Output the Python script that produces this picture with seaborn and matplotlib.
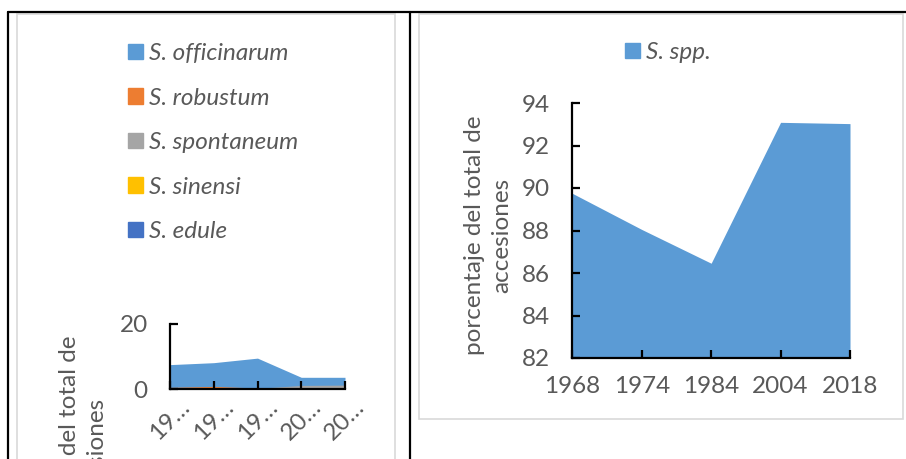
import numpy as np
import pandas as pd
import matplotlib
matplotlib.use('Agg')
import matplotlib.pyplot as plt
from matplotlib.patches import Patch, Rectangle
from matplotlib.lines import Line2D
import seaborn as sns

# datos
years = ['1968', '1974', '1984', '2004', '2018']
years_short = ['19…', '19…', '19…', '20…', '20…']
spp = [89.75, 88.05, 86.46, 93.09, 93.03]

officinarum = [7.5, 8.1, 9.5, 3.6, 3.6]
robustum = [0.5, 0.8, 0.3, 0.2, 0.2]
spontaneum = [0.1, 0.1, 0.2, 1.1, 1.2]
sinensi = [0.0, 0.0, 0.0, 0.0, 0.0]
edule = [0.0, 0.0, 0.0, 0.0, 0.0]
otras = [0.1, 0.3, 0.4, 0.0, 0.0]

species = ['S. officinarum', 'S. robustum', 'S. spontaneum', 'S. sinensi', 'S. edule']
colors = ['#5B9BD5', '#ED7D31', '#A5A5A5', '#FFC000', '#4472C4', '#70AD47']

sns.set_style('white')
plt.rcParams['font.family'] = ['Lato', 'DejaVu Sans']
txt_color = '#595959'
fs = 17.5

fig = plt.figure(figsize=(9.06, 4.59), dpi=100)

# marcos de la tabla
for xs, ys in [([8/906, 1], [1 - 12/459, 1 - 12/459]),
               ([8/906, 8/906], [0, 1 - 12/459]),
               ([410/906, 410/906], [0, 1 - 12/459])]:
    fig.add_artist(Line2D(xs, ys, color='black', lw=1.6))
# marcos de los graficos
fig.add_artist(Rectangle((17/906, -0.05), (395 - 17)/906, 1 - 13.5/459 + 0.05,
                         fill=False, edgecolor='#D9D9D9', lw=1.2))
fig.add_artist(Rectangle((419/906, 1 - 419/459), (903 - 419)/906, (419 - 13.5)/459,
                         fill=False, edgecolor='#D9D9D9', lw=1.2))


def style_axes(ax):
    sns.despine(ax=ax)
    ax.set_axisbelow(False)
    for s in ['left', 'bottom']:
        ax.spines[s].set_color('black')
        ax.spines[s].set_linewidth(1.6)
    ax.tick_params(direction='in', length=5.5, width=1.6, colors='black',
                   labelcolor=txt_color, labelsize=fs, pad=16,
                   bottom=True, left=True)
    ax.set_facecolor('none')


# grafico izquierdo
axl = fig.add_axes([170/906, 1 - 389/459, 175/906, 65/459])
x = np.arange(len(years))
series = [officinarum, robustum, spontaneum, sinensi, edule, otras]
for vals, c in zip(series, colors):
    axl.fill_between(x, 0, vals, color=c, lw=0)
axl.set_xlim(0, 4)
axl.set_ylim(0, 20)
axl.set_yticks([0, 20])
axl.set_xticks(x)
axl.set_xticklabels(years_short, rotation=45, ha='center', va='top')
style_axes(axl)
axl.tick_params(axis='x', pad=5)
axl.set_ylabel('porcentaje del total de\naccesiones', fontsize=fs, color=txt_color,
               va='center', ha='center', linespacing=1.35)
axl.yaxis.set_label_coords(-0.497, -1.015)

handles = [Patch(color=c) for c in colors[:5]]
fig.legend(handles, species, loc='upper left', bbox_to_anchor=(128/906, 1 - 43/459),
           frameon=False, prop={'style': 'italic', 'size': fs},
           handlelength=0.6, handleheight=0.6, handletextpad=0.25,
           labelspacing=0.97, labelcolor=txt_color, borderaxespad=0, borderpad=0)

# grafico derecho
axr = fig.add_axes([572.3/906, 1 - 358/459, 277.7/906, 255/459])
df = pd.DataFrame({'year': years, 'spp': spp})
axr.fill_between(np.arange(len(df)), 82, df['spp'], color=colors[0], lw=0)
axr.set_xlim(0, 4)
axr.set_ylim(82, 94)
axr.set_yticks(np.arange(82, 95, 2))
axr.set_xticks(np.arange(len(df)))
axr.set_xticklabels(df['year'])
style_axes(axr)
axr.tick_params(axis='x', pad=13)
axr.set_ylabel('porcentaje del total de\naccesiones', fontsize=fs, color=txt_color,
               va='center', ha='center', linespacing=1.35)
axr.yaxis.set_label_coords((488 - 572.3)/277.7, (358 - 235)/255)

fig.legend([Patch(color=colors[0])], ['S. spp.'], loc='upper left',
           bbox_to_anchor=(625/906, 1 - 42/459), frameon=False,
           prop={'style': 'italic', 'size': fs},
           handlelength=0.6, handleheight=0.6, handletextpad=0.25,
           labelcolor=txt_color, borderaxespad=0, borderpad=0)

fig.savefig('out.png', dpi=100)
